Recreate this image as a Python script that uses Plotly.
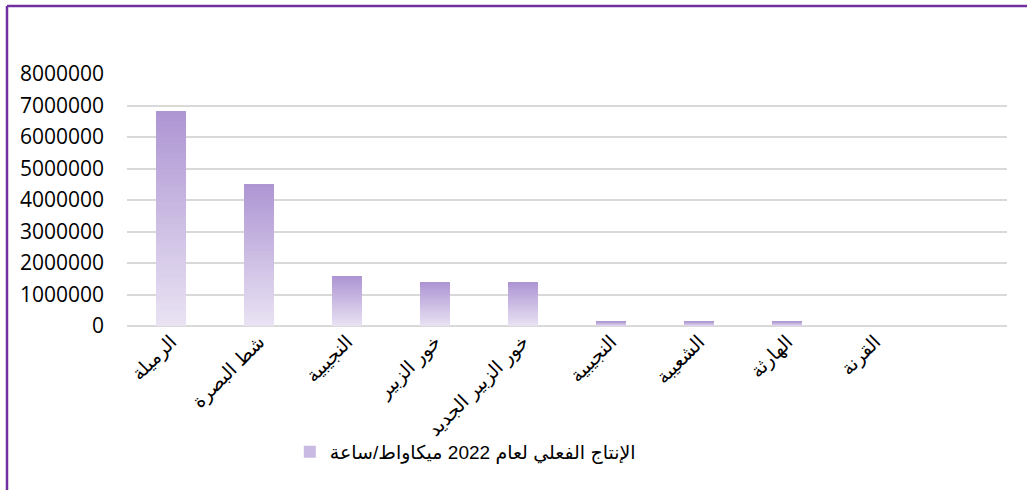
import plotly.graph_objects as go

categories = ["الرميلة", "شط البصرة", "النجيبية", "خور الزبير", "خور الزبير الجديد",
              "النجيبية", "الشعيبة", "الهارثة", "القرنة", ""]
production_2022 = [6830000, 4510000, 1580000, 1390000, 1390000, 150000, 150000, 150000, 0, 0]
series_name = "الإنتاج الفعلي لعام 2022 ميكاواط/ساعة"
y_ticks = [0, 1000000, 2000000, 3000000, 4000000, 5000000, 6000000, 7000000, 8000000]

positions = list(range(len(categories)))

# gradient simulated by stacking equal slices of each bar (light at bottom, dark at top)
N = 40
bottom = (233, 226, 243)
top = (174, 150, 211)
fig = go.Figure()
for i in range(N):
    t = i / (N - 1)
    c = tuple(round(bottom[k] + (top[k] - bottom[k]) * t) for k in range(3))
    fig.add_trace(go.Bar(
        x=positions,
        y=[v / N for v in production_2022],
        marker=dict(color="rgb(%d,%d,%d)" % c, line=dict(width=0)),
        width=0.33,
        name=series_name,
        showlegend=False,
        hoverinfo="skip",
    ))
# legend entry
fig.add_trace(go.Bar(
    x=[None], y=[None], name=series_name,
    marker=dict(color="rgb(200,186,226)", line=dict(width=0)),
    showlegend=True,
))

border = dict(color="#7030a0", width=2.5)
fig.update_layout(
    width=1027, height=490,
    margin=dict(l=127, r=20, t=74, b=164),
    paper_bgcolor="white", plot_bgcolor="white",
    barmode="stack", bargap=0,
    showlegend=True,
    legend=dict(
        orientation="h", x=0.185, xanchor="left", y=-0.5, yanchor="middle",
        font=dict(family="Liberation Sans, DejaVu Sans", size=19, color="#000000"),
        itemwidth=30, bgcolor="rgba(0,0,0,0)",
    ),
    xaxis=dict(
        tickmode="array", tickvals=positions, ticktext=categories,
        range=[-0.5, len(categories) - 0.5],
        tickangle=-45, showgrid=False, zeroline=False, showline=False,
        ticks="", tickfont=dict(family="Liberation Sans, DejaVu Sans", size=19, color="#000000"),
    ),
    yaxis=dict(
        range=[0, 8000000], tickmode="array", tickvals=y_ticks,
        ticktext=[str(v) for v in y_ticks],
        showgrid=True, gridcolor="#d9d9d9", gridwidth=1.5,
        zeroline=True, zerolinecolor="#d9d9d9", zerolinewidth=1.5,
        showline=False, ticks="", ticklabelstandoff=22,
        tickfont=dict(family="Open Sans", size=21, color="#000000"),
    ),
    shapes=[
        dict(type="line", xref="paper", yref="paper",
             x0=(7 - 127) / 880, x1=(1027 - 127) / 880,
             y0=1 + (74 - 6) / 252, y1=1 + (74 - 6) / 252, line=border, layer="above"),
        dict(type="line", xref="paper", yref="paper",
             x0=(7 - 127) / 880, x1=(7 - 127) / 880,
             y0=1 + (74 - 6) / 252, y1=(326 - 490) / 252, line=border, layer="above"),
    ],
)

fig.write_html("out.html")
